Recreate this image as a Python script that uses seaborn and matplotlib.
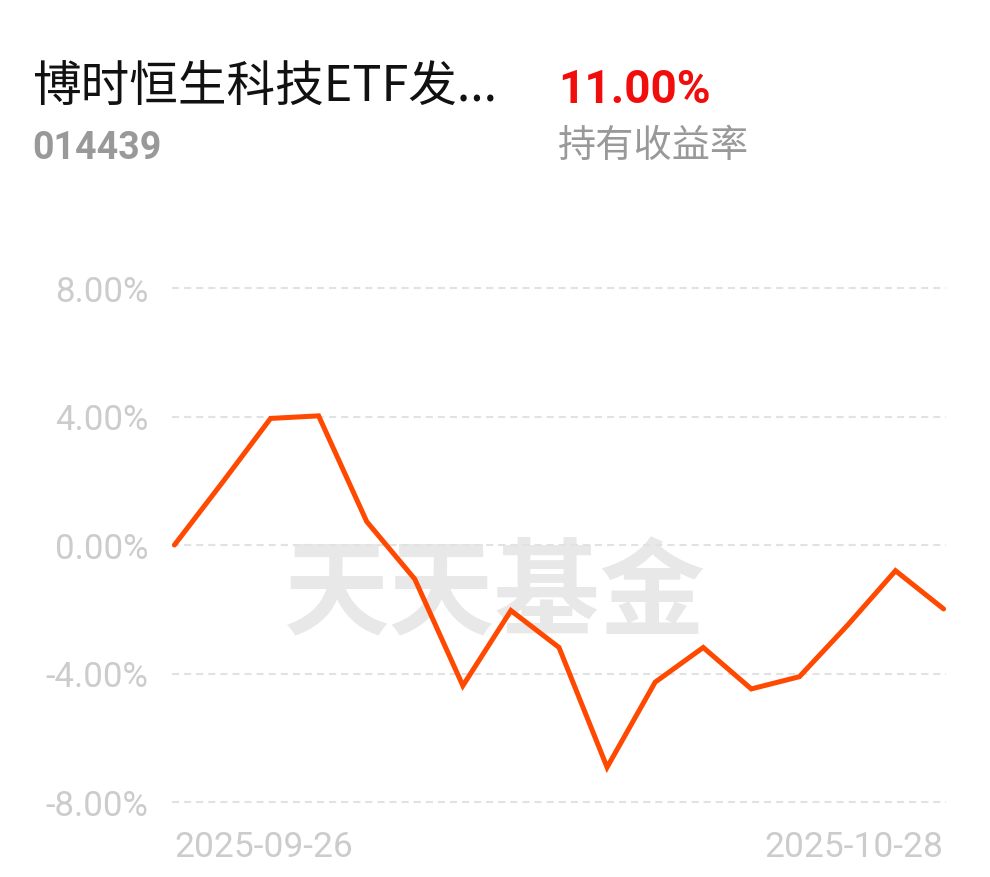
import numpy as np
import pandas as pd
import seaborn as sns
from matplotlib import pyplot as plt

# fund data
fund_name = '博时恒生科技ETF发...'
fund_code = '014439'
hold_return = '11.00%'
hold_label = '持有收益率'
watermark = '天天基金'

dates = ['2025-09-26', '2025-09-29', '2025-09-30', '2025-10-09', '2025-10-10',
         '2025-10-13', '2025-10-14', '2025-10-15', '2025-10-16', '2025-10-17',
         '2025-10-20', '2025-10-21', '2025-10-22', '2025-10-23', '2025-10-24',
         '2025-10-27', '2025-10-28']
returns = [0.00, 1.95, 3.94, 4.02, 0.73, -1.06, -4.38, -2.04, -3.19, -6.92,
           -4.27, -3.19, -4.48, -4.10, -2.50, -0.80, -1.99]
y_ticks = [-8, -4, 0, 4, 8]

df = pd.DataFrame({'date': dates, 'ret': returns})
df['pos'] = np.arange(len(df))

sns.set_style('white')
plt.rcParams['font.family'] = ['Roboto', 'Noto Sans CJK SC', 'DejaVu Sans']
plt.rcParams['axes.unicode_minus'] = False

W, H = 990, 878
fig = plt.figure(figsize=(W / 100, H / 100), dpi=100)

# axes placed in pixel terms
x0, x1 = 172, 946
ppu = 514 / 16.0
ytop = 289 - 0.1 * ppu
ybot = 803 + 0.1 * ppu
ax = fig.add_axes([x0 / W, 1 - ybot / H, (x1 - x0) / W, (ybot - ytop) / H])

ax.text((495 - x0) / (x1 - x0), 1 - (596 - ytop) / (ybot - ytop), watermark,
        transform=ax.transAxes, ha='center', va='center', fontsize=76,
        fontweight='heavy', color='#e8e8e8', family=['Noto Sans CJK SC'], zorder=0)

sns.lineplot(data=df, x='pos', y='ret', ax=ax, color='#ff4800', linewidth=3.6,
             zorder=3, solid_joinstyle='miter')

ax.set_xlim(-0.05, len(df) - 1 + 0.05)
ax.set_ylim(-8.1, 8.1)
ax.set_yticks(y_ticks)
ax.set_yticklabels(['%.2f%%' % v for v in y_ticks])
ax.set_xticks([0, len(df) - 1])
ax.set_xticklabels([dates[0], dates[-1]])
for lab, ha in zip(ax.get_xticklabels(), ['left', 'right']):
    lab.set_ha(ha)
ax.tick_params(axis='y', length=0, pad=17, labelsize=25, labelcolor='#cccccc')
ax.tick_params(axis='x', length=0, pad=18, labelsize=25.5, labelcolor='#cccccc')
ax.grid(axis='y', color='#e2e2e2', linewidth=1.5, linestyle=(0, (3.4, 2.4)))
ax.grid(axis='x', visible=False)
for s in ax.spines.values():
    s.set_visible(False)
ax.set_xlabel('')
ax.set_ylabel('')

# header
fig.text(32 / W, 1 - 101 / H, fund_name, fontsize=35, color='#111111',
         family=['Noto Sans CJK SC', 'DejaVu Sans'], va='baseline')
fig.text(558 / W, 1 - 103 / H, hold_return, fontsize=33, color='#f20d0d',
         fontweight='bold', family=['Roboto'], va='baseline')
fig.text(32 / W, 1 - 159 / H, fund_code, fontsize=27, color='#999999',
         fontweight='bold', family=['Roboto'], va='baseline')
fig.text(558 / W, 1 - 157 / H, hold_label, fontsize=27.5, color='#999999',
         family=['Noto Sans CJK SC'], va='baseline')

fig.savefig('out.png', dpi=100, facecolor='white')
